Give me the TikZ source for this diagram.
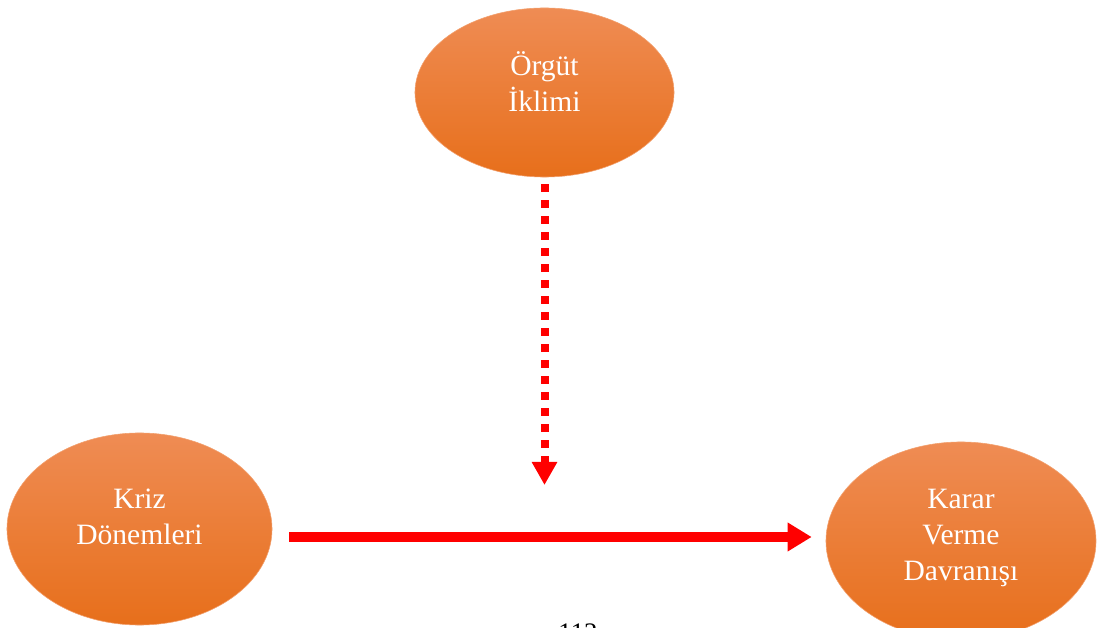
\documentclass[tikz,border=0pt]{standalone}
\usepackage{fontspec}
\setmainfont{Liberation Serif}
\usetikzlibrary{arrows.meta,shapes.geometric,positioning}
\definecolor{turuncuUst}{RGB}{239,140,84}
\definecolor{turuncuOrta}{RGB}{244,128,42}
\definecolor{turuncuAlt}{RGB}{231,111,27}
\definecolor{kenar}{RGB}{242,160,110}

\begin{document}
\begin{tikzpicture}[x=0.025cm,y=-0.025cm,
    kavram/.style={ellipse,draw=kenar,line width=0.4pt,top color=turuncuUst,middle color=turuncuOrta,bottom color=turuncuAlt,
        text=white,align=center,inner sep=0pt,font=\fontsize{21}{25.5}\selectfont},
    ana/.style={-{Triangle[length=0.6cm,width=0.68cm]},draw=red,line width=0.225cm},
    duzenleyici/.style={-{Triangle[length=0.575cm,width=0.6cm]},draw=red,line width=0.2cm,dash pattern=on 0.2cm off 0.2cm},
    sayfano/.style={anchor=base,font=\fontsize{19}{23}\selectfont}]

    \useasboundingbox (0,0) rectangle (1097,628);
    \clip (0,0) rectangle (1097,628);

		\node[kavram, minimum width=6.475cm, minimum height=4.225cm, text depth=15pt](orgut) at (544.5,92.5){Örgüt\\İklimi};
    	\node[kavram, minimum width=6.625cm, minimum height=4.8cm, text depth=17pt](kriz) at (139.5,529){Kriz\\Dönemleri};
    	\node[kavram, minimum width=6.75cm, minimum height=4.95cm, text depth=9pt](karar) at (961,541){Karar\\Verme\\Davranışı};
		\coordinate (etki) at (544.5,485);

		\draw[ana] ([shift={(17,8)}]kriz.east) -- ([shift={(-14,-4)}]karar.west);
		\draw[duzenleyici] ([shift={(0,7)}]orgut.south) -- (etki);

		\node[sayfano](sayfa) at (578,641){112};
	\end{tikzpicture}
\end{document}
